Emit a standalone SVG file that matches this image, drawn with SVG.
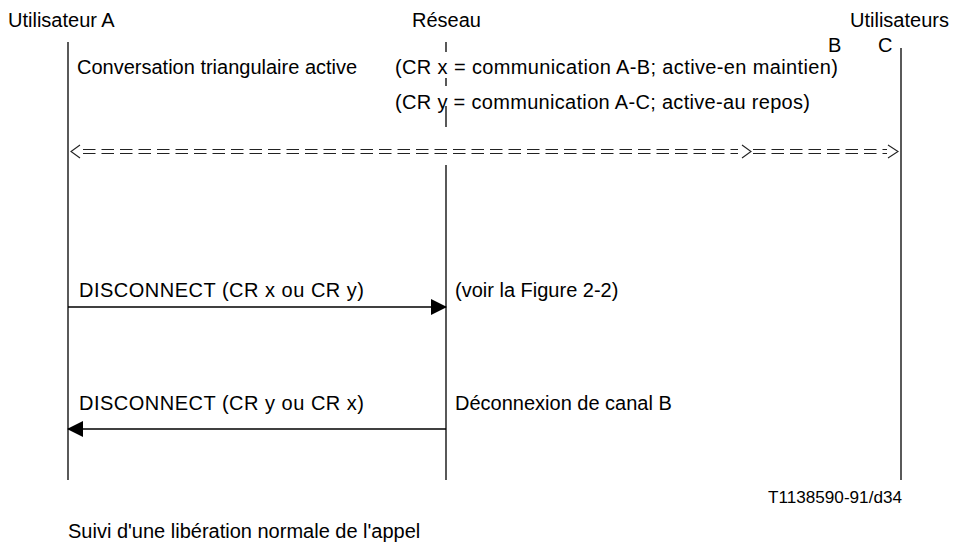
<svg xmlns="http://www.w3.org/2000/svg" width="954" height="543" viewBox="0 0 954 543">
<style>
text{font-family:"Liberation Sans",Arial,sans-serif;font-size:20px;fill:#000}
.small{font-size:17px}
.life{stroke:#000;stroke-width:1.3;fill:none}
.msg{stroke:#000;stroke-width:1.3;fill:none}
.dbl{stroke:#222;stroke-width:1.1;fill:none;stroke-dasharray:12.5 6}
.chev{stroke:#222;stroke-width:1.1;fill:none}
</style>
<defs>
<marker id="ah" markerWidth="16" markerHeight="16" viewBox="0 0 16 16" refX="15" refY="8" orient="auto" markerUnits="userSpaceOnUse">
<path d="M0,0 L16,8 L0,16 Z" fill="#000"/>
</marker>
</defs>
<rect width="954" height="543" fill="#fff"/>
<g id="userA">
<text x="8" y="27">Utilisateur A</text>
<line class="life" x1="68" y1="42" x2="68" y2="480"/>
</g>
<g id="network">
<text x="412" y="27">Réseau</text>
<path class="life" d="M446,42V52M446,78V86M446,106V127M446,165V480"/>
</g>
<g id="usersBC">
<text x="850" y="27">Utilisateurs</text>
<text x="828" y="52">B</text>
<text x="878" y="52">C</text>
<line class="life" x1="901" y1="48" x2="901" y2="480"/>
</g>
<g id="notes">
<text x="77" y="74">Conversation triangulaire active</text>
<text x="395" y="74" textLength="443" lengthAdjust="spacing">(CR x = communication A-B; active-en maintien)</text>
<text x="395" y="109" textLength="415" lengthAdjust="spacing">(CR y = communication A-C; active-au repos)</text>
<text x="455" y="297">(voir la Figure 2-2)</text>
<text x="455" y="410">Déconnexion de canal B</text>
<text class="small" x="768" y="503" textLength="134" lengthAdjust="spacingAndGlyphs">T1138590-91/d34</text>
<text x="68" y="538">Suivi d'une libération normale de l'appel</text>
</g>
<g id="connectors">
<g id="conv">
<line class="dbl" x1="83" y1="149.5" x2="738" y2="149.5"/>
<line class="dbl" x1="83" y1="153.5" x2="738" y2="153.5"/>
<line class="dbl" x1="753" y1="149.5" x2="887" y2="149.5"/>
<line class="dbl" x1="753" y1="153.5" x2="887" y2="153.5"/>
<polyline class="chev" points="80,145 71,151.5 80,158"/>
<polyline class="chev" points="742,145 751,151.5 742,158"/>
<polyline class="chev" points="888,145 898,151.5 888,158"/>
</g>
<g id="m1">
<line class="msg" x1="68" y1="307" x2="446" y2="307" marker-end="url(#ah)"/>
<text x="79" y="297" textLength="285" lengthAdjust="spacing">DISCONNECT (CR x ou CR y)</text>
</g>
<g id="m2">
<line class="msg" x1="446" y1="429" x2="68" y2="429" marker-end="url(#ah)"/>
<text x="79" y="410" textLength="285" lengthAdjust="spacing">DISCONNECT (CR y ou CR x)</text>
</g>
</g>
</svg>
